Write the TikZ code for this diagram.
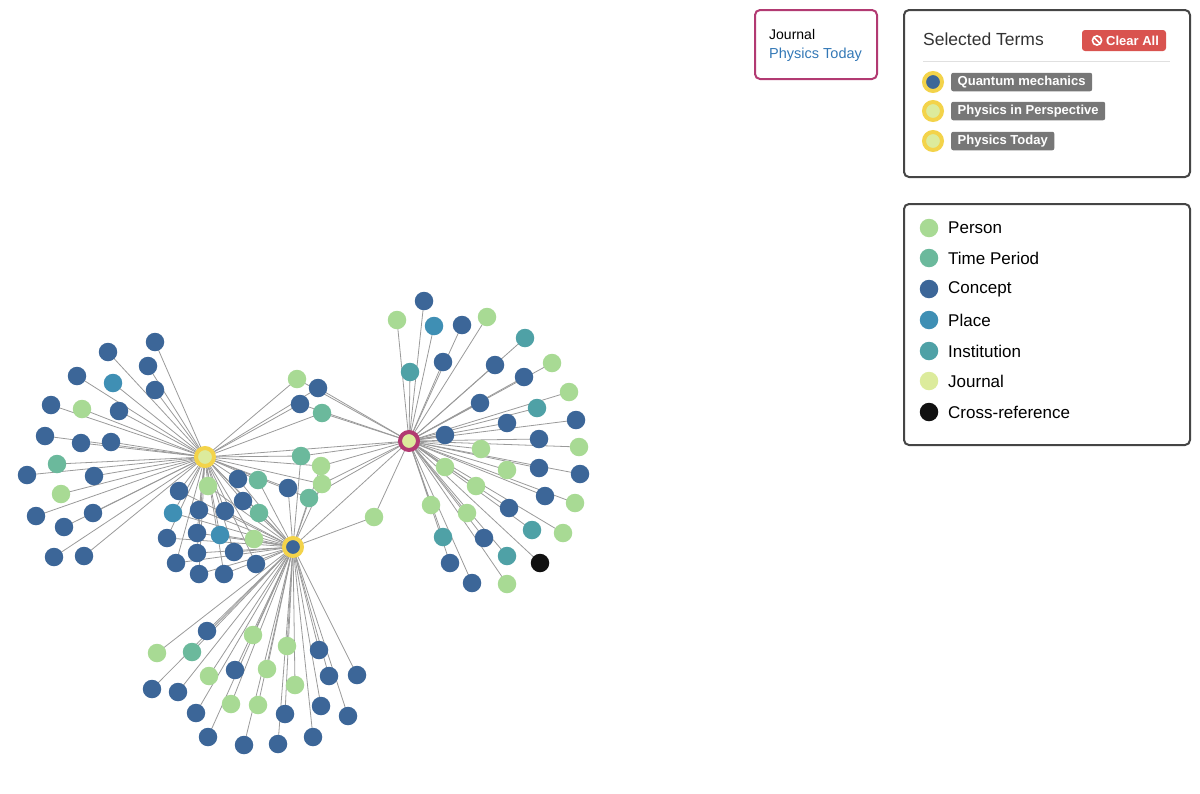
\documentclass[tikz,border=0pt]{standalone}
\usepackage{fontspec}
\setmainfont{Liberation Sans}
\usepackage{xcolor}
\usepackage{tikz}
\usetikzlibrary{backgrounds}
\definecolor{cperson}{HTML}{A8DA94}
\definecolor{cperiod}{HTML}{6BB99C}
\definecolor{cconcept}{HTML}{3C6698}
\definecolor{cplace}{HTML}{3F8FB4}
\definecolor{cinst}{HTML}{4FA1A6}
\definecolor{cjournal}{HTML}{DCEB9C}
\definecolor{cxref}{HTML}{111111}
\definecolor{ring}{HTML}{F3D34A}
\definecolor{magenta}{HTML}{B23A72}
\definecolor{edgegray}{HTML}{9A9A9A}
\definecolor{border}{HTML}{454545}
\definecolor{linkblue}{HTML}{3378B6}
\definecolor{btnred}{HTML}{D9534F}
\definecolor{badgegray}{HTML}{777777}
\newcommand{\fs}[1]{\fontsize{#1}{#1}\selectfont}
\tikzset{
  dot/.style={circle, inner sep=0pt, minimum size=18.5pt},
  person/.style={dot, fill=cperson},
  period/.style={dot, fill=cperiod},
  concept/.style={dot, fill=cconcept},
  place/.style={dot, fill=cplace},
  inst/.style={dot, fill=cinst},
  journal/.style={dot, fill=cjournal},
  xref/.style={dot, fill=cxref},
  hub/.style={circle, inner sep=0pt, minimum size=18pt, line width=4pt},
  link/.style={draw=edgegray, line width=0.8pt},
  panel/.style={draw=border, line width=2pt, rounded corners=5pt},
  badge/.style={fill=badgegray, rounded corners=2pt, text=white, font=\fs{13}\bfseries, inner xsep=6.5pt, inner ysep=0pt, minimum height=18.5pt, anchor=west},
  lab/.style={anchor=west, font=\fs{17}, inner sep=0pt},
}
\begin{document}
\begin{tikzpicture}[x=1pt, y=-1pt]
  \useasboundingbox (0,0) rectangle (1200,793);
  % hubs
  \node[hub, fill=cjournal, draw=ring] (perspective) at (205,457) {};
  \node[hub, fill=cconcept, draw=ring] (quantum) at (293,547) {};
  \node[hub, fill=cjournal, draw=magenta] (today) at (409,441) {};
  \begin{pgfonlayer}{background}
    \draw[link] (perspective.center) -- (quantum.center);
    \draw[link] (perspective.center) -- (today.center);
    \draw[link] (quantum.center) -- (today.center);
  \end{pgfonlayer}
  % terms of Physics in Perspective
  \foreach \x/\y/\t [count=\i] in {155/342/concept, 108/352/concept, 148/366/concept,
      77/376/concept, 113/383/place, 155/390/concept, 51/405/concept, 82/409/person,
      119/411/concept, 45/436/concept, 81/443/concept, 111/442/concept, 57/464/period,
      27/475/concept, 94/476/concept, 61/494/person, 36/516/concept, 93/513/concept,
      64/527/concept, 54/557/concept, 84/556/concept} {
    \node[style=\t] (p\i) at (\x,\y) {};
    \begin{pgfonlayer}{background}
      \draw[link] (perspective.center) -- (p\i.center);
    \end{pgfonlayer}
  }
  % terms shared by both yellow hubs
  \foreach \x/\y/\t [count=\i] in {179/491/concept, 208/486/person, 238/479/concept,
      258/480/period, 288/488/concept, 243/501/concept, 173/513/place, 199/510/concept,
      225/511/concept, 259/513/period, 167/538/concept, 197/533/concept, 220/535/place,
      254/539/person, 176/563/concept, 197/553/concept, 234/552/concept, 256/564/concept,
      199/574/concept, 224/574/concept} {
    \node[style=\t] (m\i) at (\x,\y) {};
    \begin{pgfonlayer}{background}
      \draw[link] (perspective.center) -- (m\i.center);
      \draw[link] (quantum.center) -- (m\i.center);
    \end{pgfonlayer}
  }
  % terms shared by all three hubs
  \foreach \x/\y/\t [count=\i] in {301/456/period, 321/466/person, 322/484/person, 309/498/period} {
    \node[style=\t] (s\i) at (\x,\y) {};
    \begin{pgfonlayer}{background}
      \draw[link] (perspective.center) -- (s\i.center);
      \draw[link] (quantum.center) -- (s\i.center);
      \draw[link] (today.center) -- (s\i.center);
    \end{pgfonlayer}
  }
  % terms shared by the journals
  \foreach \x/\y/\t [count=\i] in {297/379/person, 318/388/concept, 300/404/concept, 322/413/period} {
    \node[style=\t] (j\i) at (\x,\y) {};
    \begin{pgfonlayer}{background}
      \draw[link] (perspective.center) -- (j\i.center);
      \draw[link] (today.center) -- (j\i.center);
    \end{pgfonlayer}
  }
  \node[person] (q0) at (374,517) {};
  \begin{pgfonlayer}{background}
    \draw[link] (quantum.center) -- (q0.center);
    \draw[link] (today.center) -- (q0.center);
  \end{pgfonlayer}
  % terms of Quantum mechanics
  \foreach \x/\y/\t [count=\i] in {207/631/concept, 253/635/person, 157/653/person,
      192/652/period, 287/646/person, 319/650/concept, 209/676/person, 235/670/concept,
      267/669/person, 329/676/concept, 357/675/concept, 295/685/person, 152/689/concept,
      178/692/concept, 231/704/person, 258/705/person, 196/713/concept, 285/714/concept,
      321/706/concept, 348/716/concept, 208/737/concept, 244/745/concept, 278/744/concept,
      313/737/concept} {
    \node[style=\t] (q\i) at (\x,\y) {};
    \begin{pgfonlayer}{background}
      \draw[link] (quantum.center) -- (q\i.center);
    \end{pgfonlayer}
  }
  % terms of Physics Today
  \foreach \x/\y/\t [count=\i] in {424/301/concept, 397/320/person, 434/326/place,
      462/325/concept, 487/317/person, 525/338/inst, 410/372/inst, 443/362/concept,
      495/365/concept, 552/363/person, 524/377/concept, 569/392/person, 480/403/concept,
      537/408/inst, 507/423/concept, 576/420/concept, 445/435/concept, 539/439/concept,
      579/447/person, 481/449/person, 507/470/person, 539/468/concept, 580/474/concept,
      445/467/person, 476/486/person, 545/496/concept, 575/503/person, 431/505/person,
      467/513/person, 509/508/concept, 532/530/inst, 563/533/person, 443/537/inst,
      484/538/concept, 507/556/inst, 540/563/xref, 450/563/concept, 472/583/concept,
      507/584/person} {
    \node[style=\t] (t\i) at (\x,\y) {};
    \begin{pgfonlayer}{background}
      \draw[link] (today.center) -- (t\i.center);
    \end{pgfonlayer}
  }

  % hovered journal
  \draw[draw=magenta, line width=2pt, rounded corners=5pt] (755,10) rectangle (877,79);
  \node[lab, font=\fs{14}] (infotype) at (769,34) {Journal};
  \node[lab, font=\fs{14.5}, text=linkblue] (infoname) at (769,55) {Physics Today};

  % selected terms
  \draw[panel] (904,10) rectangle (1190,177);
  \node[lab, text=black!80, font=\fs{17.5}] (seltitle) at (923,39) {Selected Terms};
  \fill[btnred, rounded corners=3pt] (1082,30) rectangle (1166,51);
  \draw[white, line width=1.6pt] (1097,40.5) circle (4.6pt);
  \draw[white, line width=1.6pt] (1093.8,37.3) -- (1100.2,43.7);
  \node[lab, text=white, font=\fs{13}\bfseries] (clear) at (1106,40.5) {Clear All};
  \draw[black!12, line width=1pt] (923,61) -- (1170,61);
  \node[hub, fill=cconcept, draw=ring] (sel1) at (933,82) {};
  \node[hub, fill=cjournal, draw=ring] (sel2) at (933,111) {};
  \node[hub, fill=cjournal, draw=ring] (sel3) at (933,141) {};
  \node[badge] (b1) at (951,82) {Quantum mechanics};
  \node[badge] (b2) at (951,111) {Physics in Perspective};
  \node[badge] (b3) at (951,141) {Physics Today};

  % legend
  \draw[panel] (904,204) rectangle (1190,445);
  \foreach \t/\name/\y in {person/Person/228, period/Time Period/258, concept/Concept/289,
      place/Place/320, inst/Institution/351, journal/Journal/381, xref/Cross-reference/412} {
    \node[style=\t] (key-\t) at (929,\y) {};
    \node[lab] at (948,\y) {\name};
  }
\end{tikzpicture}
\end{document}
